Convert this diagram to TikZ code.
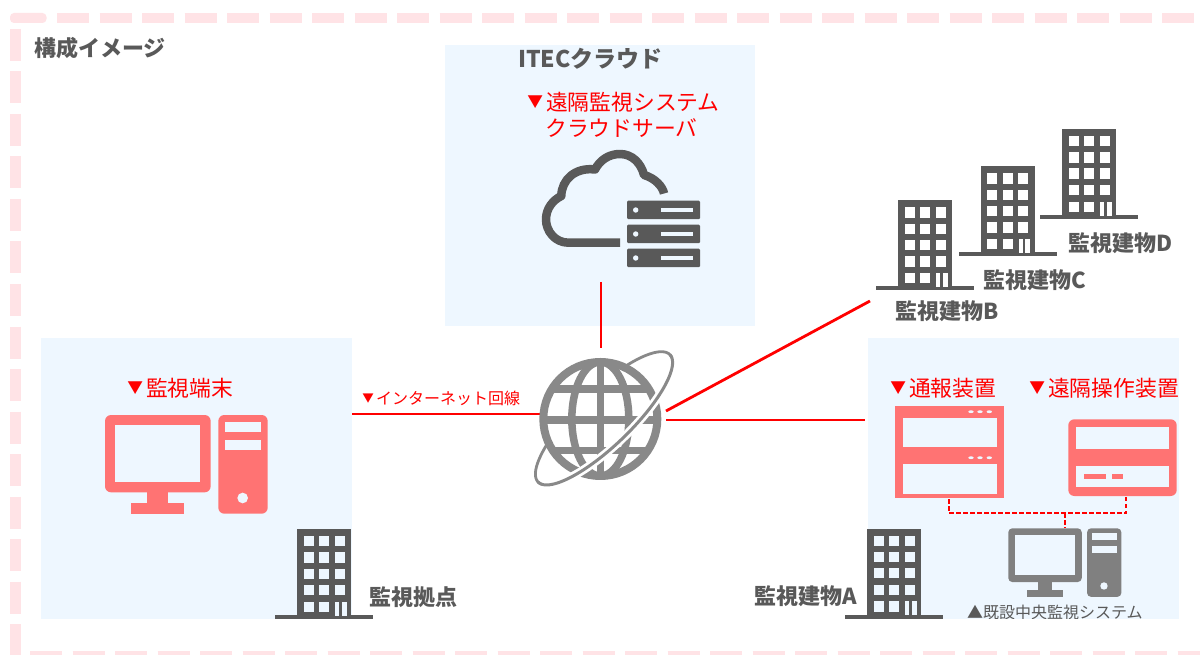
\documentclass[tikz,border=0pt]{standalone}
\usepackage{fontspec}
\setmainfont{Noto Sans CJK JP}
\definecolor{panelc}{HTML}{EEF7FF}
\definecolor{borderc}{HTML}{FFE3E6}
\definecolor{pinkc}{HTML}{FF7373}
\definecolor{darkc}{HTML}{595959}
\definecolor{grayc}{HTML}{808080}
\definecolor{globec}{HTML}{898989}
\definecolor{redc}{HTML}{FF0000}
\tikzset{
  panel/.style={fill=panelc,draw=none,inner sep=0pt,minimum width=#1},
  borderdash/.style={draw=borderc,line width=10.5pt,dash pattern=on 32pt off 10.5pt},
  redtxt/.style={text=redc,inner sep=0pt,anchor=west,font=\fontsize{21.8}{25}\selectfont},
  graytxt/.style={text=darkc,inner sep=0pt,anchor=west,font=\fontsize{22}{25}\selectfont\bfseries},
  smallred/.style={text=redc,inner sep=0pt,anchor=west,font=\fontsize{16}{19}\selectfont},
  smallgray/.style={text=darkc,inner sep=0pt,anchor=west,font=\fontsize{16}{19}\selectfont},
  netline/.style={draw=redc,line width=2.8pt},
  localline/.style={draw=redc,line width=1.5pt,dash pattern=on 4.5pt off 2.5pt},
}
\newcommand{\downmark}{\makebox[1em]{\raisebox{.12em}{\fontsize{.72em}{.72em}\selectfont ▼}}}
% building: #1 left-top of the body, #2 window colour
\newcommand{\bldgicon}[2]{%
  \begin{scope}[shift={#1}]
    \fill[darkc] (0,0) rectangle (54,88);
    \fill[darkc] (-22,86) rectangle (76,90);
    \foreach \cx in {6.5,22,37.5}{\foreach \cy in {7,23.3,39.5,56}{
      \fill[#2] (\cx,\cy) rectangle ++(10,10.3);}}
    \foreach \cx in {6.5,22}{\fill[#2] (\cx,72.7) rectangle ++(10,10.3);}
    \fill[#2] (38,72.7) rectangle ++(4,14);
    \fill[#2] (44.5,72.7) rectangle ++(5,14);
  \end{scope}}
% personal computer: #1 left-top, #2 scale, #3 colour, #4 corner radius
\newcommand{\pcicon}[4]{%
  \begin{scope}[shift={#1},x=#2pt,y=-#2pt]
    \fill[#3,rounded corners=#4pt] (0,0) rectangle (105.67,77.33);
    \fill[panelc] (10.33,10.33) rectangle (95.33,67);
    \fill[#3] (42.33,77) rectangle (63.33,88.33);
    \fill[#3] (26.33,88.33) rectangle (79.33,98.67);
    \fill[#3,rounded corners=#4pt] (113.33,0) rectangle (162.67,98.67);
    \fill[panelc] (120,7) rectangle (155.67,17.33);
    \fill[panelc] (120,25) rectangle (155.67,35.33);
    \fill[panelc] (137.67,83) circle [radius=#2*5.33pt];
  \end{scope}}
\newcommand{\rackbar}[1]{%
  \fill[darkc,rounded corners=1.2pt] (627,#1) rectangle (700,#1+18.5);
  \fill[panelc] (635.7,#1+9.3) circle [radius=2.7pt];
  \fill[panelc] (660.7,#1+7.3) rectangle (693.3,#1+11.7);}
\begin{document}
\begin{tikzpicture}[x=1pt,y=-1pt]
\useasboundingbox (0,0) rectangle (1200,655);
\fill[white] (0,0) rectangle (1200,655);
% dashed frame
\fill[borderc,rounded corners=4pt] (10,23) -- (10,13) -- (46.5,13) -- (46.5,23) -- cycle;
\path[borderdash] (57,18) -- (1194,18);
\path[borderdash] (15.5,29) -- (15.5,656);
\path[borderdash] (30,656.5) -- (1201,656.5);
% panels
\node[panel=310pt,minimum height=281pt] (pTop) at (600,185.5) {};
\node[panel=311pt,minimum height=281pt] (pLeft) at (196.5,478.5) {};
\node[panel=311pt,minimum height=281pt] (pRight) at (1023.5,478.5) {};
% connector ends
\coordinate (cloudS) at (601,282);
\coordinate (globeN) at (601,348);
\coordinate (lanW) at (352,414);
\coordinate (globeW) at (540,414);
\coordinate (globeE) at (666,420);
\coordinate (devW) at (865,420);
\coordinate (globeNE) at (666,411);
\coordinate (bldgSW) at (870,301);
\coordinate (notifyS) at (949,499);
\coordinate (notifyC) at (949,513);
\coordinate (remoteS) at (1126,497);
\coordinate (remoteC) at (1126,513);
\coordinate (junction) at (1065,513);
\coordinate (centralN) at (1065,528);
\draw[netline] (cloudS) -- (globeN);
\draw[netline] (lanW) -- (globeW);
\draw[netline] (globeE) -- (devW);
\draw[netline] (globeNE) -- (bldgSW);
\draw[localline] (notifyS) -- (notifyC) -- (remoteC) -- (remoteS);
\draw[localline] (junction) -- (centralN);
% cloud and server
\draw[darkc,line width=8.5pt,line join=round]
  (620,242.7) -- (568.5,242.7)
  .. controls (555,242.7) and (546,231) .. (546,219.5)
  .. controls (546,208.5) and (553,200) .. (561.3,196)
  .. controls (561.5,180) and (575,167) .. (595,169.5)
  .. controls (600,160) and (609,154) .. (620,154)
  .. controls (632,154) and (641,163) .. (644,175)
  .. controls (655,178) and (663,187) .. (664,193.5);
\rackbar{200.7}
\rackbar{224.7}
\rackbar{248.7}
% globe
\begin{scope}[shift={(520,340)},x=0.3333pt,y=-0.3333pt]
  \draw[globec,line width=2.8pt,smooth] plot[domain=0:360,samples=90]
    ({252+275*cos(\x)*cos(44)+82*sin(\x)*sin(44)},{235-275*cos(\x)*sin(44)+82*sin(\x)*cos(44)});
  \fill[white] (241,237) circle [radius=57.5pt];
  \draw[globec,line width=8pt] (241,237) circle [radius=57pt];
  \draw[globec,line width=7.5pt] (241,237) ellipse [x radius=28.5pt,y radius=57pt];
  \draw[globec,line width=7.5pt] (241,65) -- (241,409);
  \draw[globec,line width=7.5pt] (69,240) -- (413,240);
  \draw[globec,line width=7.5pt] (95,147) -- (387,147);
  \draw[globec,line width=7.5pt] (95,332) -- (387,332);
  \draw[white,line width=8.5pt] plot[domain=8:172,samples=60]
    ({252+275*cos(\x)*cos(44)+82*sin(\x)*sin(44)},{235-275*cos(\x)*sin(44)+82*sin(\x)*cos(44)});
  \draw[globec,line width=3pt] plot[domain=0:180,samples=60]
    ({252+275*cos(\x)*cos(44)+82*sin(\x)*sin(44)},{235-275*cos(\x)*sin(44)+82*sin(\x)*cos(44)});
\end{scope}
% computers
\pcicon{(105,415)}{1}{pinkc}{6}
\pcicon{(1008.3,528.3)}{0.695}{grayc}{4}
% notifier
\fill[pinkc] (895,406) rectangle (1004,498);
\fill[panelc] (903,417.7) rectangle (996.7,447.3);
\fill[panelc] (903,463.7) rectangle (996.7,493.7);
\foreach \dy in {411.7,457.7}{\foreach \dx in {971,980,989.3}{
  \fill[panelc] (\dx,\dy) ellipse [x radius=2.7pt,y radius=1.4pt];}}
% remote controller
\fill[pinkc,rounded corners=6pt] (1068.3,419.3) rectangle (1176.7,496);
\fill[panelc] (1076.3,427.3) rectangle (1168.7,449.3);
\fill[panelc] (1076.3,465.7) rectangle (1168.7,487.3);
\fill[pinkc] (1084.3,473.7) rectangle (1106.3,479.3);
\fill[pinkc] (1111.7,473.7) rectangle (1122.7,479.3);
% buildings
\bldgicon{(297,529)}{panelc}
\bldgicon{(867,528.5)}{panelc}
\bldgicon{(898.3,200.3)}{white}
\bldgicon{(980.7,166.3)}{white}
\bldgicon{(1062,129)}{white}
% labels
\node[graytxt] (tTitle) at (34,48) {構成イメージ};
\node[graytxt,font=\fontsize{23}{26}\selectfont\bfseries] (tItec) at (518,59) {ITECクラウド};
\node[redtxt] (tSrv1) at (524,102) {\downmark 遠隔監視システム};
\node[redtxt] (tSrv2) at (545,128) {クラウドサーバ};
\node[redtxt] (tTerm) at (124,388) {\downmark 監視端末};
\node[smallred] (tNet) at (360,398) {\downmark インターネット回線};
\node[redtxt] (tNotify) at (887,388) {\downmark 通報装置};
\node[redtxt] (tRemote) at (1026,388) {\downmark 遠隔操作装置};
\node[graytxt] (tBase) at (369,597) {監視拠点};
\node[graytxt] (tA) at (754,596) {監視建物A};
\node[graytxt] (tB) at (895,311) {監視建物B};
\node[graytxt] (tC) at (983,280) {監視建物C};
\node[graytxt] (tD) at (1068,243) {監視建物D};
\begin{scope}
  \clip (960,595) rectangle (1150,618);
  \node[smallgray] (tCentral) at (967,612) {▲既設中央監視システム};
\end{scope}
\end{tikzpicture}
\end{document}
